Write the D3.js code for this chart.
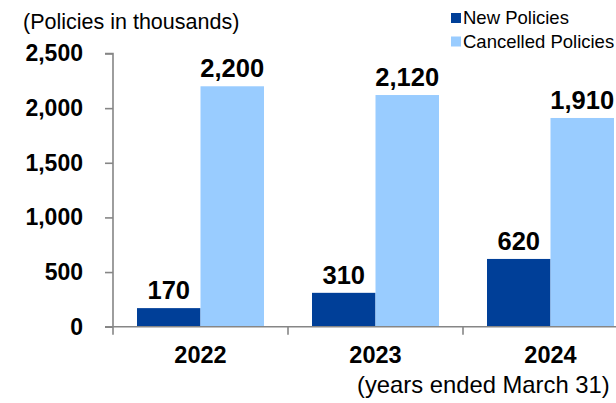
<!DOCTYPE html>
<html>
<head>
<meta charset="utf-8">
<script src="https://cdn.jsdelivr.net/npm/d3@7"></script>
<style>
  body { margin: 0; background: #fff; }
  text { font-family: Arial, "Liberation Sans", sans-serif; }
</style>
</head>
<body>
<svg id="chart" width="616" height="403"></svg>
<script>
// data
var years = ["2022", "2023", "2024"];
var seriesNames = ["New Policies", "Cancelled Policies"];
var newPolicies = [170, 310, 620];
var cancelledPolicies = [2200, 2120, 1910];
var yTicks = [0, 500, 1000, 1500, 2000, 2500];

var colors = ["#003f98", "#99ccff"];
var axisColor = "#868686";

var svg = d3.select("#chart");

var yScale = d3.scaleLinear().domain([0, 2500]).range([326.7, 53.5]);
var xScale = d3.scaleBand().domain(years).range([113, 638]).padding(0);
var xSub = d3.scaleBand().domain(seriesNames).range([0, xScale.bandwidth()])
    .paddingInner(0).paddingOuter(0.378);

var rows = years.map((y, i) => ({year: y, values: [newPolicies[i], cancelledPolicies[i]]}));

// bars
var groups = svg.append("g").selectAll("g")
    .data(rows)
    .join("g")
    .attr("transform", d => "translate(" + xScale(d.year) + ",0)");

groups.selectAll("rect")
    .data(d => d.values.map((v, j) => ({name: seriesNames[j], value: v, j: j})))
    .join("rect")
    .attr("x", d => xSub(d.name))
    .attr("y", d => yScale(d.value))
    .attr("width", xSub.bandwidth())
    .attr("height", d => yScale(0) - yScale(d.value))
    .attr("fill", d => colors[d.j]);

groups.selectAll("text.val")
    .data(d => d.values.map((v, j) => ({name: seriesNames[j], value: v})))
    .join("text")
    .attr("class", "val")
    .attr("x", d => xSub(d.name) + xSub.bandwidth() / 2)
    .attr("y", d => yScale(d.value) - 9)
    .attr("text-anchor", "middle")
    .style("font-size", "25.5px")
    .style("font-weight", "bold")
    .text(d => d3.format(",")(d.value));

// y axis
var yAxis = d3.axisLeft(yScale).tickValues(yTicks).tickFormat(d3.format(",")).tickSize(8).tickPadding(22);
var gy = svg.append("g").attr("transform", "translate(113,0)").call(yAxis);
gy.select(".domain").attr("stroke", axisColor).attr("stroke-width", 1.6).attr("d", "M-8," + yScale(2500) + "H0V" + yScale(0));
gy.selectAll(".tick line").attr("stroke", axisColor).attr("stroke-width", 1.6);
gy.selectAll(".tick text")
    .style("font-size", "23px")
    .style("font-weight", "bold")
    .attr("fill", "#000");

// x axis baseline with ticks between groups
var gx = svg.append("g").attr("transform", "translate(0," + yScale(0) + ")");
gx.append("line")
    .attr("x1", 105).attr("x2", 616)
    .attr("stroke", axisColor).attr("stroke-width", 1.6);
gx.selectAll("line.sep")
    .data(years)
    .join("line")
    .attr("class", "sep")
    .attr("x1", d => xScale(d)).attr("x2", d => xScale(d))
    .attr("y1", 0).attr("y2", 8)
    .attr("stroke", axisColor).attr("stroke-width", 1.6);
gx.selectAll("text")
    .data(years)
    .join("text")
    .attr("x", d => xScale(d) + xScale.bandwidth() / 2)
    .attr("y", 36)
    .attr("text-anchor", "middle")
    .style("font-size", "23.5px")
    .style("font-weight", "bold")
    .text(d => d);

// titles
svg.append("text")
    .attr("x", 23).attr("y", 28.5)
    .style("font-size", "21.5px")
    .text("(Policies in thousands)");

svg.append("text")
    .attr("x", 357).attr("y", 393)
    .style("font-size", "23.8px")
    .text("(years ended March 31)");

// legend
var legend = svg.append("g").selectAll("g")
    .data(seriesNames)
    .join("g")
    .attr("transform", (d, i) => "translate(451," + (13 + i * 23.5) + ")");
legend.append("rect")
    .attr("width", 10).attr("height", 10)
    .attr("fill", (d, i) => colors[i]);
legend.append("text")
    .attr("x", 12).attr("y", 11)
    .style("font-size", "18.5px")
    .text(d => d);
</script>
</body>
</html>
